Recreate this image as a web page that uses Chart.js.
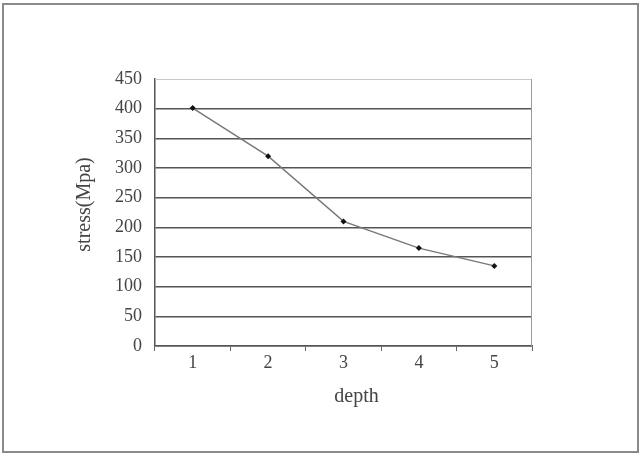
<!DOCTYPE html>
<html>
<head>
<meta charset="utf-8">
<script src="https://cdn.jsdelivr.net/npm/chart.js@4/dist/chart.umd.min.js"></script>
<style>
  html, body { margin: 0; padding: 0; background: #fff; }
  #wrap { position: absolute; left: 0; top: 0; width: 641px; height: 457px; }
</style>
</head>
<body>
<div id="wrap"><canvas id="myChart" width="641" height="457"></canvas></div>
<script>
// depth categories and stress values
const depths = ['1', '2', '3', '4', '5']
const stress = [401, 320, 210, 165, 135]
const yTicks = [0, 50, 100, 150, 200, 250, 300, 350, 400, 450]
const xTitle = 'depth'
const yTitle = 'stress(Mpa)'

const FONT = "'Liberation Serif', 'DejaVu Serif', serif"

// grey frame round the whole picture, the plot box and the axis titles
const framePlugin = {
  id: 'frame',
  beforeDraw(chart) {
    const ctx = chart.ctx
    ctx.save()
    ctx.strokeStyle = '#8a8a8a'
    ctx.lineWidth = 2
    ctx.strokeRect(3, 4, 635, 448)
    ctx.restore()
  },
  beforeDatasetsDraw(chart) {
    const a = chart.chartArea
    const ctx = chart.ctx
    ctx.save()
    ctx.lineWidth = 1
    ctx.strokeStyle = '#c8c8c8'
    ctx.beginPath()
    ctx.moveTo(a.left, a.top + 0.5)
    ctx.lineTo(a.right, a.top + 0.5)
    ctx.stroke()
    ctx.strokeStyle = '#9a9a9a'
    ctx.beginPath()
    ctx.moveTo(a.right - 0.5, a.top)
    ctx.lineTo(a.right - 0.5, a.bottom)
    ctx.stroke()
    ctx.restore()
  },
  afterDraw(chart) {
    // titles sit a little off centre in the original
    const a = chart.chartArea
    const ctx = chart.ctx
    ctx.save()
    ctx.fillStyle = '#444'
    ctx.font = "20px " + FONT
    ctx.textAlign = 'center'
    ctx.textBaseline = 'middle'
    ctx.fillText(xTitle, (a.left + a.right) / 2 + 13, a.bottom + 51)
    ctx.translate(a.left - 70, (a.top + a.bottom) / 2 - 8)
    ctx.rotate(-Math.PI / 2)
    ctx.fillText(yTitle, 0, 0)
    ctx.restore()
  }
}

function drawChart() {
  const ctx = document.getElementById('myChart').getContext('2d')
  new Chart(ctx, {
    type: 'line',
    data: {
      labels: depths,
      datasets: [{
        label: 'stress',
        data: stress,
        borderColor: '#777',
        borderWidth: 1.4,
        pointStyle: 'rectRot',
        pointRadius: 3,
        pointBackgroundColor: '#111',
        pointBorderColor: '#111',
        pointBorderWidth: 0,
        tension: 0
      }]
    },
    options: {
      responsive: false,
      animation: false,
      layout: { padding: { left: 74, right: 109, top: 79, bottom: 47 } },
      plugins: { legend: { display: false }, tooltip: { enabled: false } },
      scales: {
        x: {
          offset: true,
          grid: { offset: true, drawOnChartArea: false, drawTicks: true, tickLength: 5, color: '#666' },
          border: { color: '#555', width: 1.5 },
          ticks: { color: '#444', font: { family: FONT, size: 18 }, padding: 1 },
          afterFit(scale) { scale.height = 64 }
        },
        y: {
          min: 0,
          max: 450,
          afterBuildTicks(scale) { scale.ticks = yTicks.map(v => ({ value: v })) },
          grid: {
            drawTicks: false,
            lineWidth: 1.5,
            color: c => c.tick && c.tick.value === 450 ? 'rgba(0,0,0,0)' : '#555'
          },
          border: { color: '#555', width: 1.5 },
          ticks: { color: '#444', font: { family: FONT, size: 18 }, padding: 13 },
          afterFit(scale) { scale.width = 81 }
        }
      }
    },
    plugins: [framePlugin]
  })
}

drawChart()
</script>
</body>
</html>
